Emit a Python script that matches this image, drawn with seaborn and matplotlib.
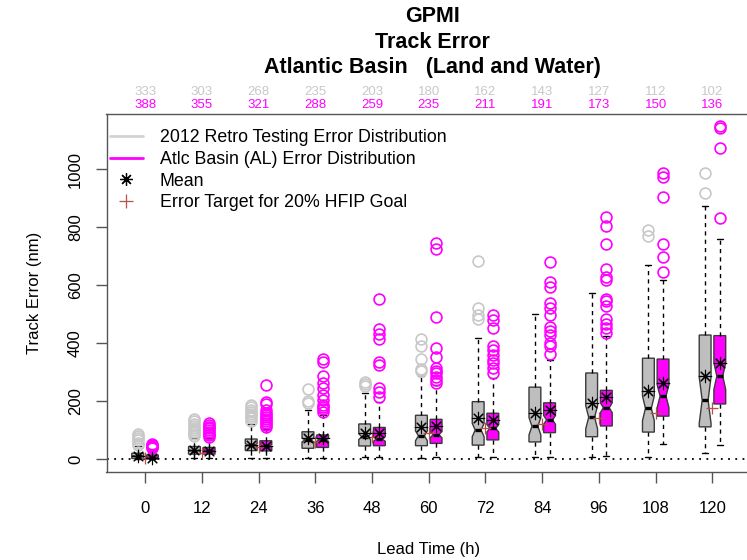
import matplotlib
matplotlib.use("Agg")
import matplotlib.pyplot as plt
from matplotlib.lines import Line2D
import numpy as np
import pandas as pd
import seaborn as sns

# ---------------- data ----------------
leads = [0, 12, 24, 36, 48, 60, 72, 84, 96, 108, 120]
n_retro = [333, 303, 268, 235, 203, 180, 162, 143, 127, 112, 102]
n_al = [388, 355, 321, 288, 259, 235, 211, 191, 173, 150, 136]

# 2012 retro testing (gray)
retro_q1 = [2, 17, 29, 37, 45, 46, 48, 59, 77, 93, 111]
retro_med = [10, 29, 48, 66, 77, 80, 100, 113, 144, 175, 203]
retro_q3 = [20, 43, 69, 94, 121, 151, 198, 248, 297, 348, 428]
retro_wlo = [0, 2, 3, 2, 6, 2, 6, 8, 8, 6, 22]
retro_whi = [45, 72, 120, 169, 227, 288, 417, 499, 573, 671, 874]
retro_mean = [10, 31, 48, 71, 91, 112, 140, 160, 192, 236, 286]
retro_notch = [2, 3, 5, 7, 10, 17, 23, 30, 40, 43, 80]
retro_out = [
    [50, 57, 64, 71, 78, 85],
    [78, 85, 92, 100, 108, 115, 122, 130, 137],
    [132, 140, 148, 155, 163, 170, 178, 186],
    [194, 201, 241],
    [253, 259, 265],
    [305, 311, 344, 390, 413],
    [482, 497, 520, 685],
    [],
    [],
    [771, 789],
    [919, 988],
]

# Atlantic basin (magenta)
al_q1 = [0, 17, 28, 40, 46, 54, 66, 91, 114, 148, 190]
al_med = [5, 29, 45, 66, 69, 84, 106, 135, 177, 217, 286]
al_q3 = [14, 40, 63, 83, 109, 137, 158, 194, 237, 345, 426]
al_wlo = [0, 2, 2, 2, 6, 8, 8, 6, 11, 51, 48]
al_whi = [34, 72, 104, 152, 198, 255, 279, 342, 423, 617, 760]
al_mean = [5, 29, 46, 71, 89, 115, 133, 169, 213, 264, 332]
al_notch = [1.5, 2.5, 4, 5, 8, 11, 13, 15, 17, 40, 46]
al_out = [
    [37, 41, 45, 49, 53],
    [76, 82, 88, 94, 100, 106, 112, 118, 125],
    [110, 118, 124, 130, 137, 145, 152, 158, 169, 190, 198, 255],
    [163, 172, 180, 186, 204, 221, 244, 261, 286, 336, 344],
    [215, 232, 246, 325, 335, 414, 430, 448, 551],
    [261, 273, 284, 296, 304, 315, 351, 384, 489, 724, 747],
    [296, 313, 330, 342, 359, 376, 391, 451, 480, 497],
    [361, 390, 399, 428, 442, 455, 497, 520, 537, 595, 612, 681],
    [435, 453, 467, 485, 527, 546, 554, 617, 629, 655, 741, 806, 837],
    [645, 699, 741, 903, 972, 989],
    [831, 1072, 1143, 1148],
]

target = [5, 20, 42, 58, 75, 90, 106, 122, 140, 158, 177]

# ---------------- style ----------------
sns.set_theme(style="white")
plt.rcParams['font.family'] = ['Liberation Sans', 'DejaVu Sans']
plt.rcParams['text.color'] = 'black'
plt.rcParams['axes.labelcolor'] = 'black'

GRAY = "#BEBEBE"
GRAY_OUT = "#C8C8C8"
MAG = "#FF00FF"
TARGET = "#B5524E"

fig = plt.figure(figsize=(7.47, 5.6), dpi=100)
W, H = 747, 560
left, right, top, bottom = 106.5, 751, 114, 471.7
ax = fig.add_axes([left / W, 1 - bottom / H, (right - left) / W, (bottom - top) / H])

off = 1.55
bw = 2.5


def stats(q1, med, q3, wlo, whi, notch, outs):
    res = []
    for i in range(len(q1)):
        res.append(dict(q1=q1[i], med=med[i], q3=q3[i], whislo=wlo[i], whishi=whi[i],
                        cilo=med[i] - notch[i], cihi=med[i] + notch[i],
                        fliers=np.array(outs[i], dtype=float)))
    return res


def draw(st, pos, face, fcol):
    ax.bxp(st, positions=pos, widths=bw, shownotches=True, patch_artist=True,
           showfliers=True, manage_ticks=False,
           boxprops=dict(facecolor=face, edgecolor="#3a3a3a", linewidth=1.0),
           medianprops=dict(color="black", linewidth=2.4),
           whiskerprops=dict(color="black", linewidth=1.0, linestyle=(0, (3, 3))),
           capprops=dict(color="black", linewidth=1.0),
           capwidths=bw * 0.5,
           flierprops=dict(marker="o", markerfacecolor="none", markeredgecolor=fcol,
                           markersize=7.8, markeredgewidth=1.2, linestyle="none"))


ax.axhline(0, color="black", linestyle=(0, (1, 3)), linewidth=1.3, zorder=0)

pos_r = [l - off for l in leads]
pos_a = [l + off for l in leads]
draw(stats(retro_q1, retro_med, retro_q3, retro_wlo, retro_whi, retro_notch, retro_out), pos_r, GRAY, GRAY_OUT)
draw(stats(al_q1, al_med, al_q3, al_wlo, al_whi, al_notch, al_out), pos_a, MAG, MAG)

df_mean = pd.DataFrame({"x": pos_r + pos_a, "y": retro_mean + al_mean})
sns.scatterplot(data=df_mean, x="x", y="y", marker=(8, 2, 0), color="black", s=80,
                linewidth=0.8, ax=ax, zorder=5, legend=False)
df_t = pd.DataFrame({"x": leads, "y": target})
sns.scatterplot(data=df_t, x="x", y="y", marker="+", color=TARGET, s=80,
                linewidth=0.9, ax=ax, zorder=4, legend=False)

ax.set_xlim(-8.15, 128.15)
ax.set_ylim(-43.8, 1191)
ax.set_xticks(leads)
ax.set_xticklabels([str(l) for l in leads])
ax.set_yticks([0, 200, 400, 600, 800, 1000])
ax.set_yticklabels(["0", "200", "400", "600", "800", "1000"], rotation=90, va="center")
ax.tick_params(axis="both", direction="out", length=8, width=1.0, color="#555555",
               labelsize=12, labelcolor="black", bottom=True, left=True)
ax.tick_params(axis="x", pad=13)
ax.tick_params(axis="y", pad=9)
for s in ax.spines.values():
    s.set_color("#555555")
    s.set_linewidth(1.0)
ax.set_xlabel("Lead Time (h)", fontsize=12, labelpad=19)
ax.set_ylabel("Track Error (nm)", fontsize=12, labelpad=19)
ax.grid(False)

# counts above plot
ph = bottom - top
for l, a, b in zip(leads, n_retro, n_al):
    ax.text(l, 1.0 + 22 / ph, str(a), transform=ax.get_xaxis_transform(),
            ha="center", va="center", fontsize=9.5, color=GRAY_OUT)
    ax.text(l, 1.0 + 9 / ph, str(b), transform=ax.get_xaxis_transform(),
            ha="center", va="center", fontsize=9.5, color=MAG)

# titles
cx = 432 / W
fig.text(cx, 1 - 17 / H, "GPMI", ha="center", va="center", fontsize=15.5, fontweight="bold")
fig.text(cx, 1 - 43 / H, "Track Error", ha="center", va="center", fontsize=15.5, fontweight="bold")
fig.text(cx, 1 - 68 / H, "Atlantic Basin   (Land and Water)", ha="center", va="center",
         fontsize=15.5, fontweight="bold")

handles = [
    Line2D([], [], color="#D3D3D3", lw=2),
    Line2D([], [], color=MAG, lw=2),
    Line2D([], [], color="black", marker=(8, 2, 0), linestyle="none", markersize=9, markeredgewidth=0.9),
    Line2D([], [], color=TARGET, marker="+", linestyle="none", markersize=10, markeredgewidth=0.9),
]
labels = ["2012 Retro Testing Error Distribution", "Atlc Basin (AL) Error Distribution",
          "Mean", "Error Target for 20% HFIP Goal"]
fig.legend(handles, labels, loc="upper left", bbox_to_anchor=(110 / W, 1 - 129 / H),
           frameon=False, fontsize=12.8, handlelength=1.85, handletextpad=0.95,
           labelspacing=0.27, borderaxespad=0, borderpad=0)

fig.savefig("out.png", dpi=100)
